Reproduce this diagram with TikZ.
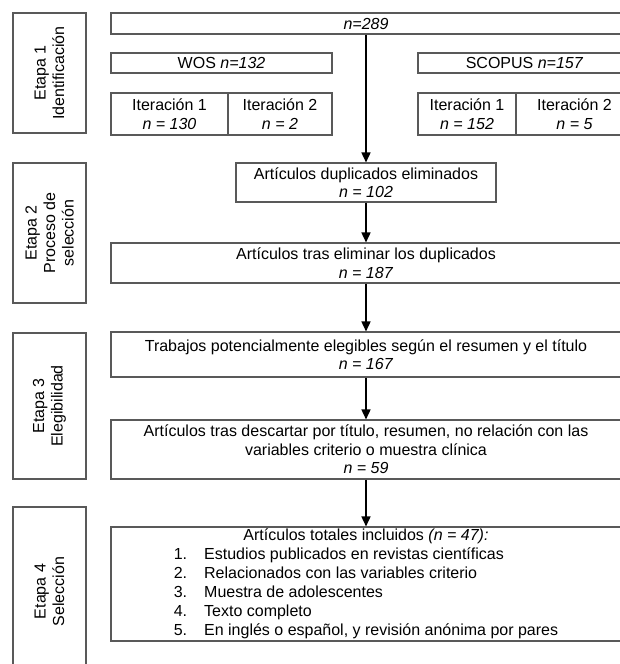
\documentclass[tikz,border=0pt]{standalone}
\usepackage{fontspec}
\setmainfont{Liberation Sans}
\usetikzlibrary{arrows.meta}

\begin{document}
\begin{tikzpicture}[x=1pt, y=-1pt,
		font=\fontsize{16}{18.5}\selectfont,
		box/.style={draw=black!65, line width=1.1pt, fill=white, inner sep=0pt, align=center},
		stagebox/.style={box, rotate=90, minimum width=#1, minimum height=73pt},
		flow/.style={-{Triangle[width=9pt,length=10pt]}, line width=1.6pt}]
			\useasboundingbox (0,0) rectangle (620,664);

			% etapas
			\draw node[stagebox=120pt] (etapa1) at (49.5,73) {Etapa 1\\Identificación};
			\draw node[stagebox=140pt] (etapa2) at (49.5,233) {Etapa 2\\Proceso de\\selección};
			\draw node[stagebox=146pt] (etapa3) at (49.5,406) {Etapa 3\\Elegibilidad};
			\draw node[stagebox=169pt] (etapa4) at (49.5,591.5) {Etapa 4\\Selección};

			% identificacion
			\draw node[box, minimum width=510pt, minimum height=21pt] (total) at (366,23.5) {\textit{n=289}};
			\draw node[box, minimum width=221pt, minimum height=20pt] (wos) at (221.5,63) {WOS \textit{n=132}};
			\draw node[box, minimum width=213pt, minimum height=20pt] (scopus) at (524.5,63) {SCOPUS \textit{n=157}};
			\draw node[box, minimum width=117pt, minimum height=42pt] (wos1) at (169.5,114) {Iteración 1\\\textit{n = 130}};
			\draw node[box, minimum width=104pt, minimum height=42pt] (wos2) at (280,114) {Iteración 2\\\textit{n = 2}};
			\draw node[box, minimum width=98pt, minimum height=42pt] (sco1) at (467,114) {Iteración 1\\\textit{n = 152}};
			\draw node[box, minimum width=117pt, minimum height=42pt] (sco2) at (574.5,114) {Iteración 2\\\textit{n = 5}};

			% seleccion y elegibilidad
			\draw node[box, minimum width=260pt, minimum height=39pt] (dup) at (366,182.5) {Artículos duplicados eliminados\\\textit{n = 102}};
			\draw node[box, minimum width=510pt, minimum height=40pt] (elim) at (366,263) {Artículos tras eliminar los duplicados\\\textit{n = 187}};
			\draw node[box, minimum width=510pt, minimum height=45pt] (trab) at (366,354.5) {Trabajos potencialmente elegibles según el resumen y el título\\\textit{n = 167}};
			\draw node[box, minimum width=510pt, minimum height=59pt] (desc) at (366,449.5) {Artículos tras descartar por título, resumen, no relación con las\\variables criterio o muestra clínica\\\textit{n = 59}};
			\draw node[box, minimum width=510pt, minimum height=114pt, font=\fontsize{16}{19}\selectfont] (incl) at (366,584) {%
				\begin{tabular}{@{}l@{\hspace{17pt}}l@{}}
					\multicolumn{2}{c}{Artículos totales incluidos \textit{(n = 47):}}\\
					1. & Estudios publicados en revistas científicas\\
					2. & Relacionados con las variables criterio\\
					3. & Muestra de adolescentes\\
					4. & Texto completo\\
					5. & En inglés o español, y revisión anónima por pares
				\end{tabular}};

			\draw[flow] (total) -- (dup);
			\draw[flow] (dup) -- (elim);
			\draw[flow] (elim) -- (trab);
			\draw[flow] (trab) -- (desc);
			\draw[flow] (desc) -- (incl);
		\end{tikzpicture}
\end{document}
